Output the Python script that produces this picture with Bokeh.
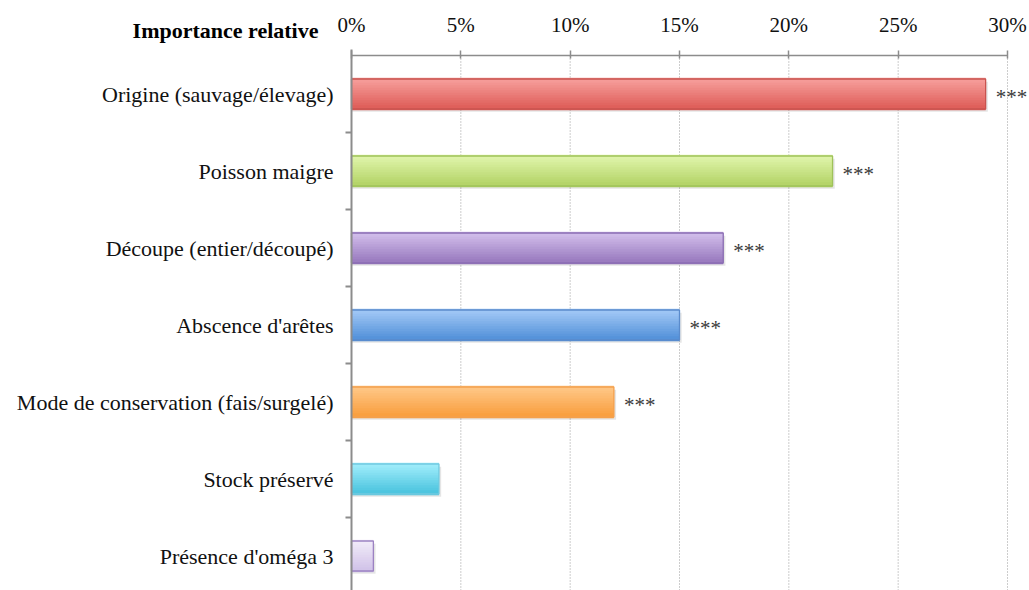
from bokeh.plotting import figure
from bokeh.models import Range1d, FixedTicker, Label, ColumnDataSource
from bokeh.core.properties import value
from bokeh.embed import file_html
from bokeh.resources import INLINE

# ---- data ----
categories = [
    "Origine (sauvage/élevage)",
    "Poisson maigre",
    "Découpe (entier/découpé)",
    "Abscence d'arêtes",
    "Mode de conservation (fais/surgelé)",
    "Stock préservé",
    "Présence d'oméga 3",
]
importance = [29, 22, 17, 15, 12, 4, 1]
significance = ["***", "***", "***", "***", "***", "", ""]
tick_values = [0, 5, 10, 15, 20, 25, 30]
tick_labels = ["0%", "5%", "10%", "15%", "20%", "25%", "30%"]
title_text = "Importance relative"

# ---- styles ----
top_colors = ["#f8a3a0", "#e3f7b0", "#d6c3ee", "#a8cdf8", "#ffca8c", "#a6f0fd", "#f3eefa"]
bottom_colors = ["#de5d58", "#b3d366", "#9879be", "#5290d9", "#f99e3e", "#4ac3de", "#d1c2e8"]
border_colors = ["#c9534f", "#9fc25a", "#8a6cb2", "#5a8bcc", "#f4a04e", "#72c9df", "#9c82c2"]

FONT = "Liberation Serif"
n = len(categories)
centers = [i + 0.5 for i in range(n)]
bar_h = 0.39
PX_X = 656 / 30.0   # pixels per percent
PX_Y = 77.0         # pixels per category
Y_BOTTOM = 535 / PX_Y

p = figure(
    width=1029, height=590,
    x_range=Range1d(-351 / PX_X, 678 / PX_X), y_range=Range1d(Y_BOTTOM, -55 / PX_Y),
    x_axis_location="above",
    output_backend="svg", toolbar_location=None,
    min_border_left=0, min_border_right=0, min_border_top=0, min_border_bottom=0,
)
p.outline_line_color = None
p.background_fill_color = "white"
p.xgrid.visible = False
p.ygrid.visible = False

# dotted vertical grid lines below the top axis
p.segment(x0=tick_values[1:], x1=tick_values[1:], y0=0, y1=Y_BOTTOM,
          line_color="#9a9a9a", line_dash="1 2", line_width=1)

# shadows
p.hbar(y=[c + 0.035 for c in centers], left=0, right=[v + 0.1 for v in importance],
       height=bar_h, fill_color="#000000", fill_alpha=0.10, line_color=None)

def hex2rgb(h):
    h = h.lstrip("#")
    return tuple(int(h[i:i + 2], 16) for i in (0, 2, 4))

def mix(a, b, t):
    ra, rb = hex2rgb(a), hex2rgb(b)
    return "#%02x%02x%02x" % tuple(round(ra[k] + (rb[k] - ra[k]) * t) for k in range(3))

N = 12
for s in range(N):
    t = (s + 0.5) / N
    ys = [c - bar_h / 2 + bar_h * (s + 0.5) / N for c in centers]
    cols = [mix(top_colors[i], bottom_colors[i], t) for i in range(n)]
    p.hbar(y=ys, left=0, right=importance, height=bar_h / N * 2.0,
           fill_color=cols, line_color=None)

p.hbar(y=centers, left=0, right=importance, height=bar_h,
       fill_color=None, line_color=border_colors, line_width=1.3)

src = ColumnDataSource(dict(x=importance, y=[c + 0.035 for c in centers], t=significance))
p.text(x="x", y="y", text="t", source=src, x_offset=10,
       text_font=value(FONT), text_font_size="21px", text_color="#3a3a3a",
       text_baseline="middle", text_align="left")

# x axis (top), pinned at the top of the bars area
xa = p.xaxis[0]
xa.fixed_location = 0
xa.ticker = FixedTicker(ticks=tick_values)
xa.major_label_overrides = {v: l for v, l in zip(tick_values, tick_labels)}
xa.bounds = (0, 30)
xa.axis_line_color = "#8c8c8c"
xa.axis_line_width = 1.5
xa.major_tick_line_color = "#8c8c8c"
xa.major_tick_line_width = 1.5
xa.major_tick_out = 5
xa.major_tick_in = 3
xa.minor_tick_line_color = None
xa.major_label_text_font = FONT
xa.major_label_text_font_size = "21px"
xa.major_label_text_color = "#111111"
xa.major_label_standoff = 14

# y axis (left), pinned at 0 %
ya = p.yaxis[0]
ya.fixed_location = 0
ya.bounds = (-0.08, Y_BOTTOM)
ya.ticker = FixedTicker(ticks=centers, minor_ticks=[float(i) for i in range(1, n + 1)])
ya.major_label_overrides = {c: l for c, l in zip(centers, categories)}
ya.axis_line_color = "#8c8c8c"
ya.axis_line_width = 2
ya.major_tick_line_color = None
ya.major_tick_out = 0
ya.major_tick_in = 0
ya.minor_tick_line_color = "#8c8c8c"
ya.minor_tick_line_width = 2
ya.minor_tick_out = 6
ya.minor_tick_in = 0
ya.major_label_text_font = FONT
ya.major_label_text_font_size = "22px"
ya.major_label_text_color = "#111111"
ya.major_label_standoff = 12

# title
p.add_layout(Label(x=0, y=-25 / PX_Y, x_offset=-33, text=title_text,
                   text_font=FONT, text_font_size="22px", text_font_style="bold",
                   text_color="#000000", text_align="right", text_baseline="middle"))

open("out.html", "w").write(file_html(p, INLINE))
